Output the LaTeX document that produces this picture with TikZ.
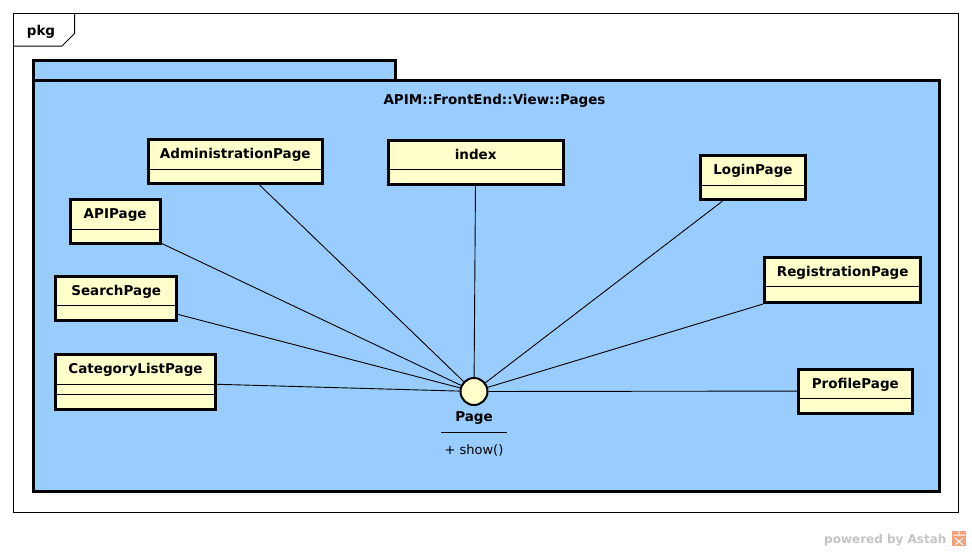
\documentclass[tikz,border=0pt]{standalone}
\usepackage{fontspec}
\setsansfont{DejaVu Sans}
\usepackage{tikz}

\definecolor{pkgblue}{HTML}{99CCFF}
\definecolor{classyellow}{HTML}{FFFFCC}
\definecolor{astahgray}{HTML}{C4C4C4}
\definecolor{astahorange}{HTML}{F4A07A}

\begin{document}
\begin{tikzpicture}
 [x=1pt, y=-1pt,
  class node/.style={rectangle, draw, line width=3pt, fill=classyellow, anchor=north west, inner sep=0pt,
    text height=19pt, text depth=25pt, font=\sffamily\bfseries\fontsize{13.5}{16}\selectfont,
    path picture={\draw[black, line width=0.8pt] ([yshift=-29.5pt]path picture bounding box.north west) -- ([yshift=-29.5pt]path picture bounding box.north east);}},
  iface node/.style={circle, draw, line width=2pt, fill=classyellow, minimum size=27pt, inner sep=0pt},
  pkg frame/.style={draw, line width=3pt, fill=pkgblue},
  bold label/.style={font=\sffamily\bfseries\fontsize{13.5}{16}\selectfont}]

\useasboundingbox[fill=white] (0,0) rectangle (972,552);

% diagram frame
\draw[line width=1pt] (13.5,13.5) rectangle (958.5,512.5);
\draw[line width=1pt] (13.5,46) -- (62,46) -- (74.5,33.5) -- (74.5,13.5);
\node (pkg) [bold label, anchor=base] at (41,35) {pkg};

% package
\draw[pkg frame] (33.8,60.8) rectangle (395.2,80.5);
\draw[pkg frame] (33.8,80.5) rectangle (939.5,491);
\node (title) [bold label, anchor=base] at (494.5,104) {APIM::FrontEnd::View::Pages};

\node[class node, minimum width=174.5pt] (admin) at (146.5,138) {AdministrationPage};
\node[class node, minimum width=175.3pt] (index) at (386.5,138.5) {index};
\node[class node, minimum width=89.7pt] (api) at (68.8,198) {APIPage};
\node[class node, minimum width=105.4pt] (login) at (698.8,154.2) {LoginPage};
\node[class node, minimum width=121pt] (search) at (54.2,274.8) {SearchPage};
\node[class node, minimum width=156pt, text depth=26.5pt] (registration) at (763.2,255.8) {RegistrationPage};
\node[class node, minimum width=114pt] (profile) at (796.8,367.5) {ProfilePage};
\node[class node, minimum width=160.4pt, text depth=35.6pt,
  path picture={\draw[black, line width=0.8pt] ([yshift=-29.5pt]path picture bounding box.north west) -- ([yshift=-29.5pt]path picture bounding box.north east)
    ([yshift=-39.5pt]path picture bounding box.north west) -- ([yshift=-39.5pt]path picture bounding box.north east);}] (category) at (53.8,353.2) {CategoryListPage};

\node[iface node] (page) at (474,391.5) {};
\node (pagename) [below of=page, node distance=25.5pt, bold label, text height=11pt, text depth=3pt] {Page};
\node (pageops) [below of=pagename, node distance=28.3pt, inner sep=0pt, minimum width=65pt, text height=22pt, text depth=4pt,
  font=\sffamily\fontsize{13}{16}\selectfont] {+ show()};
\draw[line width=0.9pt] (pageops.north west) -- (pageops.north east);

\path
  (page) edge [line width=0.9pt] (admin)
  (page) edge [line width=0.9pt] (index)
  (page) edge [line width=0.9pt] (api)
  (page) edge [line width=0.9pt] (login)
  (page) edge [line width=0.9pt] (search)
  (page) edge [line width=0.9pt] (registration)
  (page) edge [line width=0.9pt] (profile)
  (page) edge [line width=0.9pt] (category);

% footer
\node (powered) [anchor=base east, text=astahgray, font=\sffamily\bfseries\fontsize{12}{15}\selectfont] at (950,543.5) {powered by Astah};
\fill[astahorange] (952,531) rectangle (966,546);
\draw[white, line width=1pt] (953,535) -- (965,535) (959,531) -- (959,535) (955,538) -- (963,545) (963,538) -- (955,545);

\end{tikzpicture}
\end{document}
